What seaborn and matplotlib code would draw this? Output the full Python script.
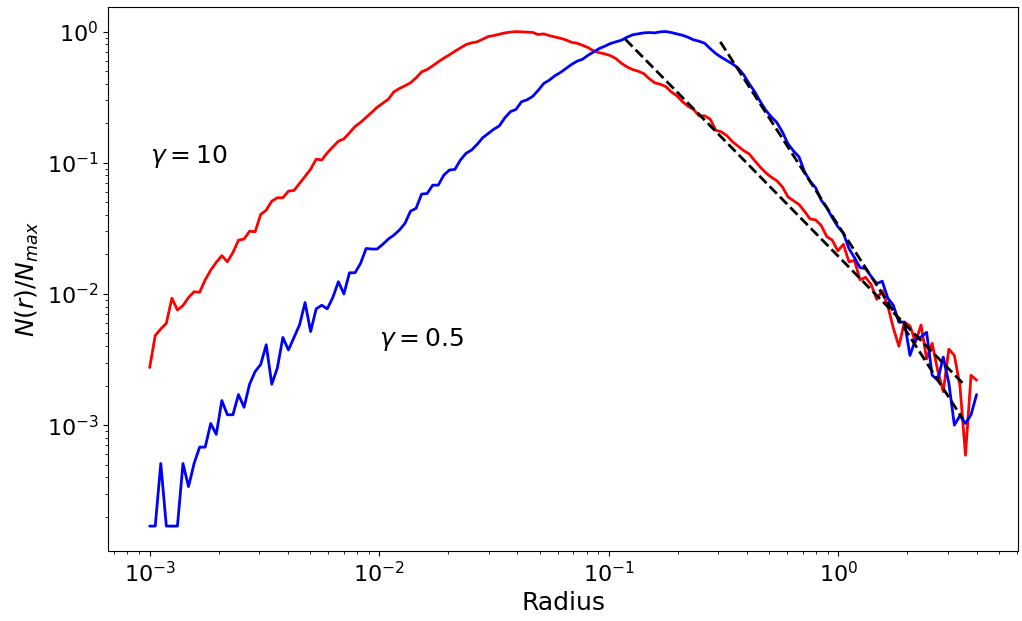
import numpy as np
import pandas as pd
import matplotlib
matplotlib.use("Agg")
import matplotlib.pyplot as plt
import seaborn as sns

# radius bins (log spaced, 150 bins from 1e-3 to 4)
n_bins = 150
radius = np.logspace(-3, np.log10(4), n_bins)

# normalised counts N(r)/N_max
n_gamma_10 = [
    2.75e-3, 4.82e-3, 5.41e-3, 5.98e-3, 9.27e-3, 7.55e-3, 8.16e-3, 9.4e-3, 1.04e-2, 1.03e-2,
    1.28e-2, 1.52e-2, 1.74e-2, 1.96e-2, 1.76e-2, 2.07e-2, 2.57e-2, 2.62e-2, 3.01e-2, 2.98e-2,
    4.04e-2, 4.35e-2, 5.1e-2, 5.41e-2, 5.41e-2, 6.08e-2, 6.15e-2, 6.95e-2, 7.87e-2, 8.93e-2,
    0.1065, 0.105, 0.119, 0.132, 0.146, 0.152, 0.169, 0.189, 0.203, 0.222,
    0.242, 0.265, 0.284, 0.305, 0.347, 0.368, 0.386, 0.407, 0.444, 0.493,
    0.514, 0.548, 0.588, 0.627, 0.664, 0.708, 0.751, 0.796, 0.82, 0.835,
    0.874, 0.916, 0.932, 0.954, 0.977, 0.99, 1.0, 0.995, 0.99, 0.985,
    0.949, 0.96, 0.932, 0.911, 0.889, 0.864, 0.829, 0.815, 0.786, 0.755,
    0.712, 0.69, 0.676, 0.656, 0.623, 0.574, 0.538, 0.514, 0.499, 0.479,
    0.438, 0.407, 0.397, 0.381, 0.347, 0.324, 0.292, 0.27, 0.255, 0.228,
    0.228, 0.215, 0.177, 0.172, 0.161, 0.145, 0.134, 0.124, 0.117, 0.104,
    0.093, 0.084, 0.0777, 0.073, 0.0656, 0.0551, 0.0514, 0.0481, 0.0426, 0.0373,
    0.0367, 0.0333, 0.0274, 0.0257, 0.0213, 0.0239, 0.0176, 0.018, 0.0128, 0.0134,
    0.0118, 0.0091, 0.0106, 0.0081, 0.0055, 0.004, 0.0061, 0.0057, 0.0043, 0.0058,
    0.0032, 0.0042, 0.0026, 0.0018, 0.0038, 0.0034, 0.002, 0.00059, 0.0024, 0.0022,
]

n_gamma_05 = [
    1.7e-4, 1.7e-4, 5.1e-4, 1.7e-4, 1.7e-4, 1.7e-4, 5.1e-4, 3.4e-4, 5.1e-4, 6.8e-4,
    6.8e-4, 1.03e-3, 8.5e-4, 1.54e-3, 1.2e-3, 1.2e-3, 1.71e-3, 1.37e-3, 2.05e-3, 2.56e-3,
    2.9e-3, 4.1e-3, 2.05e-3, 2.72e-3, 4.66e-3, 3.74e-3, 4.66e-3, 5.8e-3, 8.6e-3, 5.17e-3,
    7.7e-3, 8.2e-3, 7.7e-3, 9.4e-3, 1.24e-2, 1.0e-2, 1.45e-2, 1.45e-2, 1.71e-2, 2.22e-2,
    2.2e-2, 2.2e-2, 2.39e-2, 2.62e-2, 2.81e-2, 3.07e-2, 3.45e-2, 4.28e-2, 4.49e-2, 5.77e-2,
    5.83e-2, 6.75e-2, 6.75e-2, 8.05e-2, 8.8e-2, 8.9e-2, 0.105, 0.118, 0.125, 0.138,
    0.155, 0.167, 0.18, 0.191, 0.22, 0.245, 0.255, 0.292, 0.302, 0.32,
    0.356, 0.402, 0.426, 0.46, 0.487, 0.523, 0.561, 0.594, 0.615, 0.66,
    0.70, 0.742, 0.773, 0.81, 0.835, 0.859, 0.905, 0.944, 0.96, 0.977,
    0.983, 0.977, 0.995, 1.0, 0.983, 0.96, 0.937, 0.905, 0.865, 0.844,
    0.815, 0.742, 0.68, 0.637, 0.601, 0.567, 0.529, 0.471, 0.402, 0.349,
    0.294, 0.252, 0.224, 0.203, 0.172, 0.140, 0.123, 0.111, 0.0854, 0.0724,
    0.0645, 0.0519, 0.0454, 0.0381, 0.0326, 0.029, 0.0222, 0.0189, 0.0159, 0.0156,
    0.0136, 0.012, 0.0125, 0.0093, 0.0082, 0.0061, 0.0061, 0.0034, 0.0045, 0.0047,
    0.0051, 0.0024, 0.0022, 0.0033, 0.0021, 0.0010, 0.00118, 0.00103, 0.0012, 0.00171,
]

# power-law fits to the tails (end points)
fit_10_r = [0.118, 3.57]
fit_10_n = [0.874, 2.0e-3]
fit_05_r = [0.306, 3.5]
fit_05_n = [0.835, 1.1e-3]

df = pd.DataFrame({
    "radius": np.concatenate([radius, radius]),
    "n": np.concatenate([n_gamma_10, n_gamma_05]),
    "gamma": ["10"] * n_bins + ["0.5"] * n_bins,
})

sns.set_style("ticks")
plt.rcParams["font.family"] = ["DejaVu Sans"]
plt.rcParams["axes.edgecolor"] = "black"
plt.rcParams["axes.labelcolor"] = "black"
plt.rcParams["text.color"] = "black"
plt.rcParams["xtick.color"] = "black"
plt.rcParams["ytick.color"] = "black"

fig, ax = plt.subplots(figsize=(10.22, 6.21), dpi=100)
fig.subplots_adjust(left=0.106, right=0.996, bottom=0.113, top=0.989)

sns.lineplot(data=df, x="radius", y="n", hue="gamma",
             palette={"10": "red", "0.5": "blue"}, linewidth=2,
             legend=False, ax=ax)
sns.lineplot(x=fit_10_r, y=fit_10_n, color="black", linestyle="--", linewidth=2, ax=ax)
sns.lineplot(x=fit_05_r, y=fit_05_n, color="black", linestyle="--", linewidth=2, ax=ax)

ax.set_xscale("log")
ax.set_yscale("log")
ax.margins(x=0.05, y=0.05)

ax.text(1e-3, 0.1, r"$\gamma = 10$", fontsize=18)
ax.text(1e-2, 4e-3, r"$\gamma = 0.5$", fontsize=18)

ax.set_xlabel("Radius", fontsize=18)
ax.set_ylabel(r"$N(r)/N_{max}$", fontsize=18)
ax.tick_params(axis="both", which="major", labelsize=16)

fig.savefig("out.png", dpi=100)
